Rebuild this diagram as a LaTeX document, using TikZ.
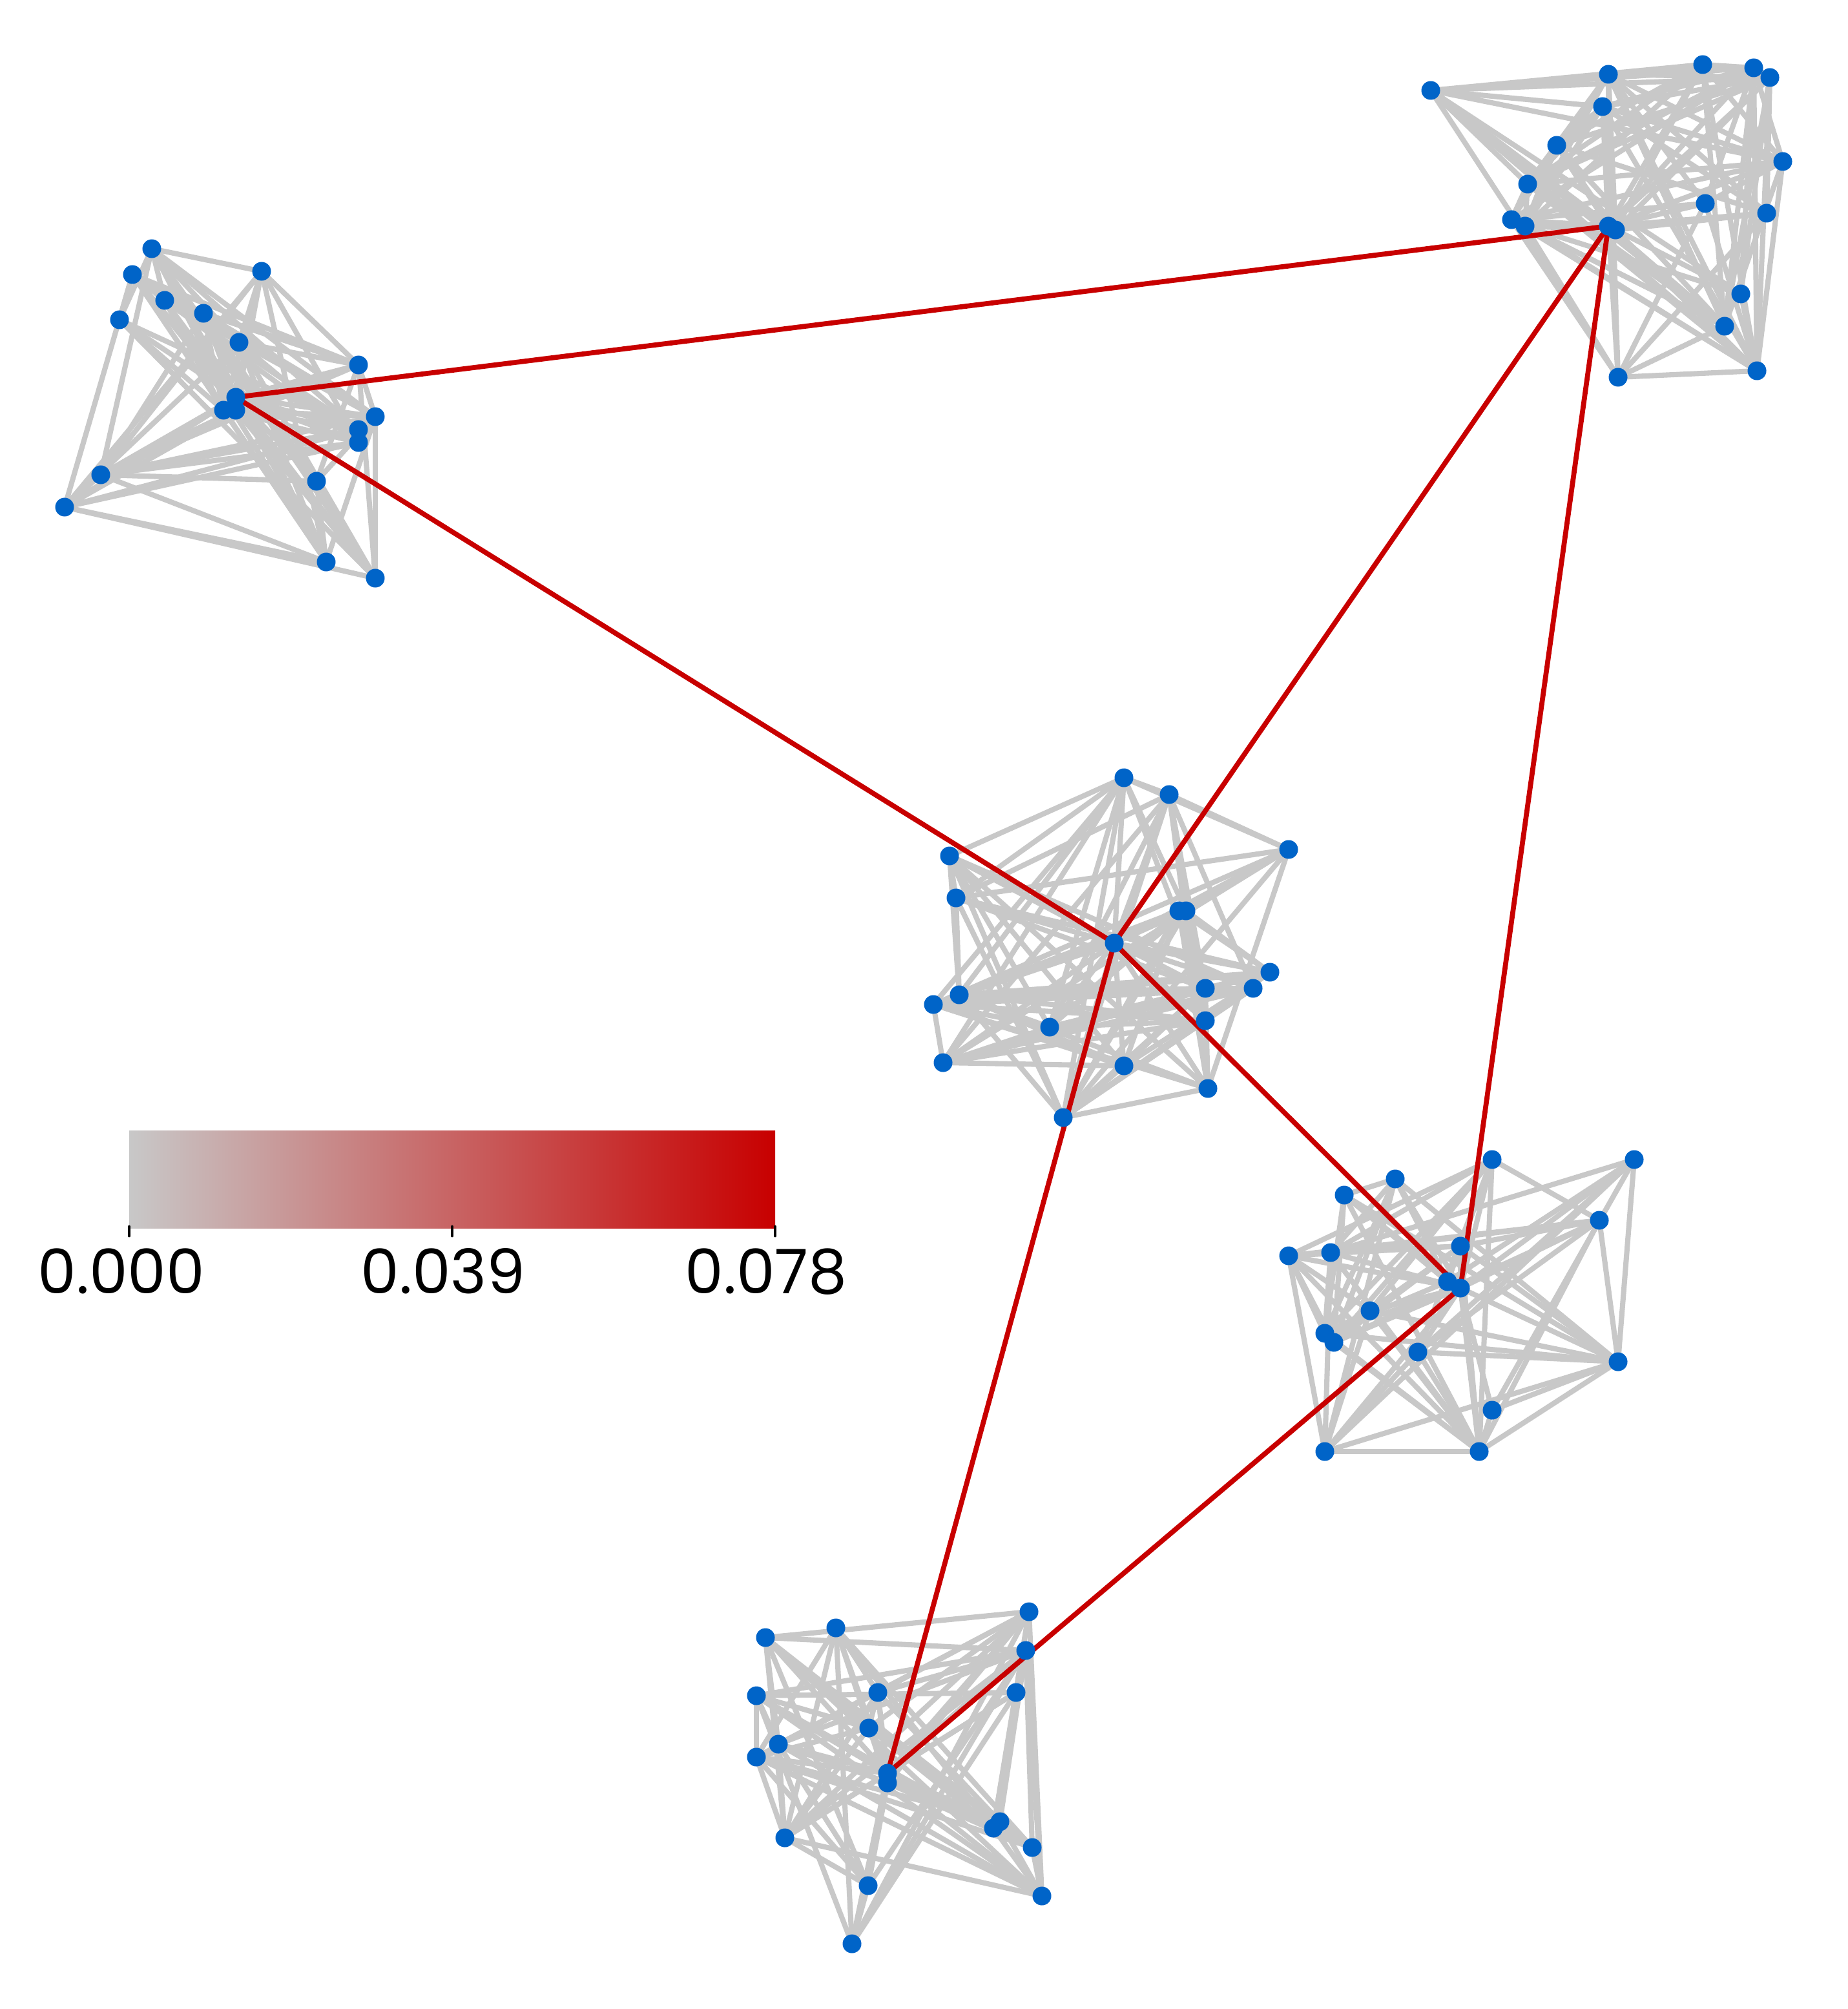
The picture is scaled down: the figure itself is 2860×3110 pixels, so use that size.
\documentclass[tikz,border=0pt]{standalone}
\usepackage{fontspec}
\setmainfont{Poppins}
\usetikzlibrary{backgrounds}
\definecolor{edgegray}{RGB}{200,200,200}
\definecolor{edgered}{RGB}{200,0,0}
\definecolor{nodeblue}{RGB}{0,100,200}
\tikzset{
  dot/.style={circle,fill=nodeblue,draw=none,inner sep=0pt,minimum size=0.29cm},
  grayedge/.style={draw=edgegray,line width=2.3pt},
  rededge/.style={draw=edgered,line width=2.2pt},
  ticklabel/.style={anchor=base,inner sep=0pt,font=\fontsize{27}{32}\selectfont},
  tickmark/.style={line width=1.4pt,line cap=round,black}
}
\begin{document}
\begin{tikzpicture}[x=0.01cm,y=-0.01cm]
\useasboundingbox (0,0) rectangle (2860,3110);
% cluster A (top left)
\foreach \n/\x/\y in {1/235/385,2/405/420,3/205/425,4/255/465,5/315/485,6/185/495,7/370/530,8/555/565,9/365/615,10/346/635,11/365/635,12/581/645,13/555/665,14/555/685,15/156/735,16/490/745,17/100/785,18/505/870,19/581/895}
  \node[dot] (a\n) at (\x,\y) {};
% cluster B (top right)
\foreach \n/\x/\y in {1/2215/140,2/2490/115,3/2636/100,4/2715/105,5/2740/120,6/2481/165,7/2410/225,8/2760/250,9/2365/285,10/2640/315,11/2735/330,12/2340/340,13/2361/350,14/2490/350,15/2501/356,16/2695/455,17/2670/505,18/2505/584,19/2720/574}
  \node[dot] (b\n) at (\x,\y) {};
% cluster C (centre)
\foreach \n/\x/\y in {1/1740/1204,2/1810/1230,3/1995/1315,4/1470/1325,5/1480/1390,6/1825/1410,7/1836/1410,8/1725/1460,9/1966/1505,10/1866/1530,11/1940/1530,12/1485/1540,13/1445/1555,14/1866/1580,15/1625/1590,16/1460/1645,17/1740/1650,18/1870/1685,19/1646/1730}
  \node[dot] (c\n) at (\x,\y) {};
% cluster D (right)
\foreach \n/\x/\y in {1/2310/1795,2/2530/1795,3/2160/1825,4/2081/1850,5/2476/1889,6/2261/1929,7/1995/1944,8/2060/1939,9/2241/1984,10/2261/1994,11/2121/2029,12/2051/2064,13/2065/2078,14/2195/2093,15/2505/2108,16/2310/2183,17/2051/2247,18/2290/2247}
  \node[dot] (d\n) at (\x,\y) {};
% cluster E (bottom)
\foreach \n/\x/\y in {1/1593/2495,2/1294/2520,3/1185/2535,4/1588/2555,5/1171/2625,6/1359/2620,7/1573/2620,8/1345/2675,9/1205/2700,10/1171/2720,11/1374/2745,12/1374/2760,13/1548/2820,14/1538/2830,15/1215/2845,16/1598/2860,17/1344/2919,18/1613/2935,19/1319/3009}
  \node[dot] (e\n) at (\x,\y) {};
\begin{pgfonlayer}{background}
\pgfmathsetseed{4321}
\foreach \p/\h/\m in {a/9/19,b/14/19,c/8/19,d/10/18,e/11/19}{
  \foreach \i in {1,...,\m}{
    \foreach \j in {1,...,\m}{
      \ifnum\j>\i
        \pgfmathtruncatemacro\keep{(rnd<0.55)||(\i==\h)||(\j==\h)}
        \ifnum\keep=1 \draw[grayedge] (\p\i.center) -- (\p\j.center); \fi
      \fi
    }
  }
}
\draw[rededge] (a9.center) -- (b14.center);
\draw[rededge] (a9.center) -- (c8.center);
\draw[rededge] (c8.center) -- (b14.center);
\draw[rededge] (b14.center) -- (d10.center);
\draw[rededge] (c8.center) -- (d10.center);
\draw[rededge] (c8.center) -- (e11.center);
\draw[rededge] (d10.center) -- (e11.center);
\end{pgfonlayer}
% colour bar
\shade[left color=edgegray,right color=edgered] (200,1750) rectangle (1200,1901);
\draw[tickmark] (200,1899) -- (200,1913);
\draw[tickmark] (700,1899) -- (700,1913);
\draw[tickmark] (1200,1899) -- (1200,1913);
\node[ticklabel] (l0) at (188,2002) {0.000};
\node[ticklabel] (l1) at (686,2002) {0.039};
\node[ticklabel] (l2) at (1186,2002) {0.078};
\end{tikzpicture}
\end{document}
